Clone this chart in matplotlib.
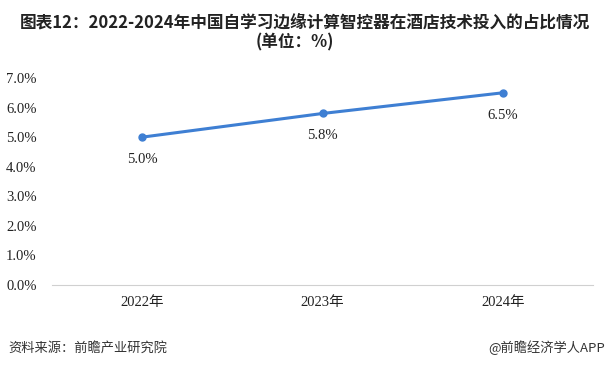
import matplotlib.pyplot as plt
from matplotlib.ticker import FuncFormatter

years = ['2022年', '2023年', '2024年']
shares = [5.0, 5.8, 6.5]
y_ticks = [0, 1, 2, 3, 4, 5, 6, 7]

plt.rcParams['font.family'] = ['Noto Sans CJK SC', 'DejaVu Sans']

fig = plt.figure(figsize=(6.08, 3.67), dpi=100)
ax = fig.add_axes([52 / 608, 1 - 285 / 367, 541 / 608, (285 - 78) / 367])

x = list(range(len(years)))
ax.plot(x, shares, color='#3e7fd3', lw=2.2, marker='o', ms=5, zorder=3)
for xi, v in zip(x, shares):
    ax.annotate(f'{v:.1f}%', (xi, v), xytext=(0, -16), textcoords='offset points',
                ha='center', va='center', fontsize=10.5, family='Liberation Serif',
                color='#222222')

ax.set_xlim(-0.5, len(years) - 0.5)
ax.set_ylim(0, 7)
ax.set_yticks(y_ticks)
ax.yaxis.set_major_formatter(FuncFormatter(lambda v, p: f'{v:.1f}%'))
ax.set_xticks(x)
ax.set_xticklabels(years)
for lab in ax.get_yticklabels():
    lab.set_family('Liberation Serif')
    lab.set_fontsize(10.5)
    lab.set_color('#222222')
for lab in ax.get_xticklabels():
    lab.set_family(['Liberation Serif', 'Noto Sans CJK SC'])
    lab.set_fontsize(10.5)
    lab.set_color('#222222')

for s in ['top', 'right', 'left']:
    ax.spines[s].set_visible(False)
ax.spines['bottom'].set_color('#d0d0d0')
ax.tick_params(axis='both', length=0)
ax.tick_params(axis='y', pad=11)
ax.tick_params(axis='x', pad=8)

fig.text(0.502, 1 - 23 / 367, '图表12：2022-2024年中国自学习边缘计算智控器在酒店技术投入的占比情况',
         ha='center', va='center', fontsize=12, fontweight='bold', color='#222222')
fig.text(0.485, 1 - 42 / 367, '(单位：%)', ha='center', va='center', fontsize=12,
         fontweight='bold', color='#222222')

fig.text(8 / 608, 1 - 348 / 367, '资料来源：前瞻产业研究院', ha='left', va='center',
         fontsize=9.5, color='#333333')
fig.text(605 / 608, 1 - 348 / 367, '@前瞻经济学人APP', ha='right', va='center',
         fontsize=9.5, color='#333333')

fig.savefig('out.png', dpi=100)
